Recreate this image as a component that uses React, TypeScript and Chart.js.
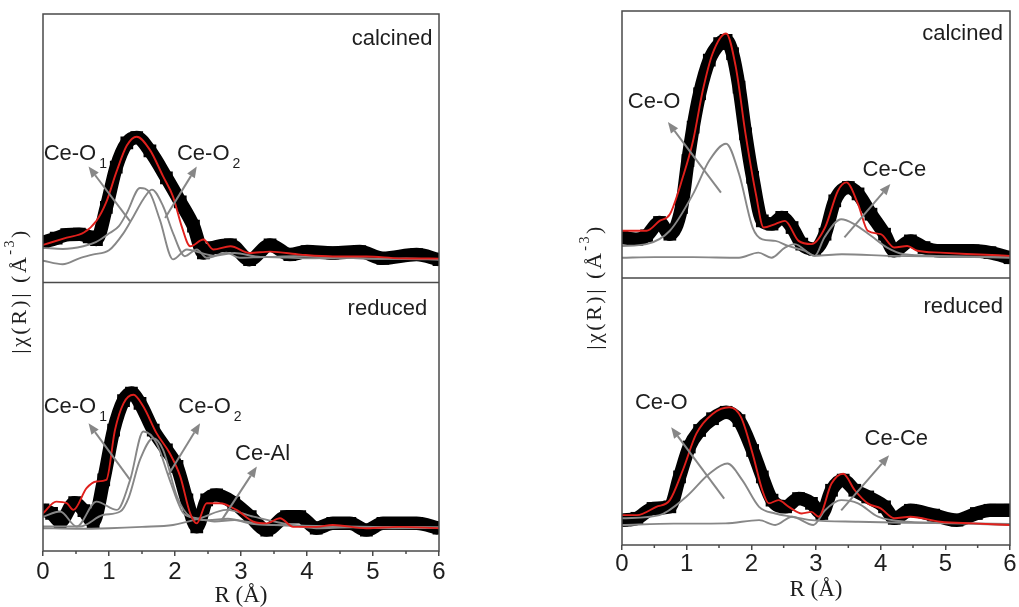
import React, { useEffect, useRef } from "react";
import { Chart, registerables } from "chart.js";

Chart.register(...registerables);

// ---------------- axis ticks ----------------
const xMinorTicks = [0.5, 1.5, 2.5, 3.5, 4.5, 5.5];
const xAxisTitle = "R (Å)";

// ---------------- LEFT panel, calcined ----------------
const lcDataR = [0, 0.2, 0.36, 0.55, 0.7, 0.81, 0.96, 1.11, 1.27, 1.42, 1.62, 1.87, 2.08, 2.28, 2.43, 2.58, 2.84, 3.13, 3.44, 3.74, 4.0, 4.39, 4.8, 5.15, 5.66, 6.0];
const lcDataY = [15, 16.5, 17.8, 18, 17, 16, 28, 43, 52, 54, 49, 39, 30, 21, 11, 13, 14, 8.5, 14, 10.4, 11.5, 11, 11.5, 9, 10.4, 8.5];
const lcFitR = [0, 0.36, 0.62, 0.81, 0.96, 1.11, 1.27, 1.42, 1.62, 1.82, 1.97, 2.1, 2.23, 2.43, 2.58, 2.84, 3.13, 3.44, 3.9, 4.39, 4.9, 5.4, 6.0];
const lcFitY = [14, 16.7, 18.6, 23, 30, 41, 51, 54.3, 49.4, 39.5, 32, 21, 13.5, 16, 12.3, 13.5, 11, 11.5, 10.4, 9.7, 9.7, 9, 8.9];
const lcCeO1R = [0, 0.3, 0.61, 0.8, 1.01, 1.15, 1.27, 1.47, 1.62, 1.77, 1.97, 2.18, 2.38, 2.6, 2.9, 3.3, 3.8, 4.4, 5.0, 5.5, 6.0];
const lcCeO1Y = [12.9, 12.5, 13.5, 15, 18.4, 21, 25.9, 35.2, 33.3, 23.4, 8.6, 12.3, 11.1, 10, 11, 9.5, 9.8, 9.5, 8.8, 9, 8.5];
const lcCeO2R = [0, 0.3, 0.55, 0.75, 1.0, 1.22, 1.37, 1.52, 1.65, 1.82, 1.97, 2.15, 2.33, 2.48, 2.78, 2.98, 3.4, 4.0, 4.6, 5.2, 6.0];
const lcCeO2Y = [8.1, 6.8, 9, 10.4, 12, 18.4, 24.6, 31, 34.6, 28.4, 18.4, 9.8, 12.3, 9.2, 11.1, 9.2, 9.5, 9, 9.2, 8.8, 8.6];

// ---------------- LEFT panel, reduced ----------------
const lrDataR = [0, 0.13, 0.26, 0.48, 0.62, 0.76, 0.92, 1.07, 1.22, 1.34, 1.47, 1.67, 1.87, 2.03, 2.18, 2.33, 2.48, 2.63, 2.89, 3.14, 3.39, 3.69, 3.89, 4.14, 4.39, 4.65, 4.9, 5.15, 5.66, 6.0];
const lrDataY = [15.3, 14, 10.9, 18, 15, 10.9, 26.5, 45, 56, 58.8, 55, 45, 37.7, 31.5, 19, 9, 19, 20.9, 17.9, 12.8, 7.8, 12.8, 12.8, 8.5, 10.3, 10.3, 7.8, 10.3, 10.3, 8.5];
const lrFitR = [0, 0.2, 0.36, 0.46, 0.66, 0.81, 0.96, 1.09, 1.22, 1.37, 1.52, 1.72, 1.92, 2.08, 2.23, 2.33, 2.48, 2.68, 2.93, 3.19, 3.39, 3.59, 3.79, 4.14, 4.39, 4.9, 5.4, 6.0];
const lrFitY = [14, 18.4, 17.8, 15.3, 23.4, 25.9, 26.5, 45, 55, 58.2, 53.8, 43.9, 36.4, 27.7, 14, 10.3, 17.8, 17.8, 15.3, 10.9, 10.3, 12.2, 9, 9, 9.7, 8.5, 9, 8.5];
const lrCeO1R = [0, 0.26, 0.51, 0.81, 1.12, 1.32, 1.52, 1.72, 1.92, 2.13, 2.33, 2.6, 2.9, 3.3, 3.8, 4.4, 5.0, 6.0];
const lrCeO1Y = [12.8, 14.7, 9.1, 18.4, 15.3, 26.5, 44.5, 40.2, 26.5, 14, 12.2, 11, 11.5, 10, 9.5, 9.2, 9, 8.8];
const lrCeO2R = [0, 0.56, 0.91, 1.17, 1.3, 1.47, 1.67, 1.82, 2.03, 2.23, 2.5, 2.8, 3.2, 3.8, 4.5, 5.2, 6.0];
const lrCeO2Y = [9.1, 9.1, 13.4, 14.7, 20, 34, 42, 37.7, 20.3, 12.8, 11.5, 12, 10, 9.5, 9, 9, 8.8];
const lrCeAlR = [0, 0.5, 1.0, 1.5, 1.97, 2.38, 2.78, 3.19, 3.64, 4.14, 4.7, 5.3, 6.0];
const lrCeAlY = [8.5, 8.3, 8.5, 9, 9.7, 12.2, 15.3, 12.8, 10.3, 8.5, 8.8, 8.5, 8.6];

// ---------------- RIGHT panel, calcined ----------------
const rcDataR = [0, 0.23, 0.38, 0.58, 0.74, 0.92, 1.02, 1.1, 1.2, 1.35, 1.51, 1.61, 1.71, 1.81, 1.91, 2.02, 2.17, 2.32, 2.47, 2.63, 2.78, 2.98, 3.14, 3.29, 3.5, 3.65, 3.85, 4.06, 4.21, 4.46, 4.67, 4.92, 5.43, 5.69, 6.0];
const rcDataY = [15.2, 14.5, 15.8, 20.8, 16.4, 26.4, 44, 56.5, 69, 81.6, 87.8, 89, 84, 71.5, 54, 37.7, 21.4, 20.2, 22.7, 18.9, 12.7, 10.8, 16.4, 28.9, 33.9, 31.5, 23.9, 16.4, 10.2, 13.9, 11.4, 10.2, 10.2, 9.5, 7.6];
const rcFitR = [0, 0.38, 0.58, 0.74, 0.94, 1.1, 1.25, 1.4, 1.61, 1.76, 1.91, 2.07, 2.19, 2.37, 2.52, 2.73, 2.93, 3.14, 3.34, 3.47, 3.65, 3.8, 4.0, 4.21, 4.41, 4.57, 4.92, 5.43, 6.0];
const rcFitY = [17.7, 17.7, 21.4, 23.9, 37.7, 51.5, 70.3, 84, 91.6, 79, 54, 31.5, 18.9, 20.2, 21.4, 13.9, 12.7, 18.9, 32.7, 35.8, 27.7, 17.7, 16.4, 11.4, 12, 10.2, 9.5, 8.9, 8.3];
const rcCeOR = [0, 0.38, 0.74, 1.1, 1.35, 1.61, 1.81, 2.02, 2.17, 2.37, 2.57, 2.83, 2.98, 3.4, 4.16, 5.0, 6.0];
const rcCeOY = [12, 12.7, 17.7, 31.5, 44, 50.3, 39, 18.9, 14.5, 13.9, 12, 10.2, 8.3, 8.9, 8.3, 8, 7.6];
const rcCeCeR = [0, 0.5, 1.1, 1.81, 2.11, 2.31, 2.52, 2.67, 2.98, 3.13, 3.39, 3.59, 3.85, 4.1, 4.36, 4.87, 5.5, 6.0];
const rcCeCeY = [7.6, 7.8, 7.8, 7.6, 9.5, 7.6, 11.4, 12.7, 8.3, 15.2, 22, 20.2, 15.8, 11.4, 8.9, 8.3, 8, 7.8];

// ---------------- RIGHT panel, reduced ----------------
const rrDataR = [0, 0.23, 0.48, 0.74, 0.89, 1.04, 1.2, 1.4, 1.61, 1.81, 2.02, 2.17, 2.32, 2.53, 2.73, 2.93, 3.09, 3.24, 3.42, 3.6, 3.8, 4.06, 4.21, 4.46, 4.82, 5.18, 5.48, 5.69, 6.0];
const rrDataY = [9.3, 10, 13.7, 14.3, 25.5, 36.7, 42.9, 47.3, 49.7, 46.6, 35.4, 25.5, 16.8, 14.3, 17.4, 15.6, 11.8, 20.5, 24.3, 20.5, 18, 14.3, 10, 13, 11.2, 9.3, 11.8, 13, 13];
const rrFitR = [0, 0.23, 0.53, 0.74, 0.94, 1.15, 1.4, 1.66, 1.84, 2.02, 2.17, 2.27, 2.42, 2.58, 2.78, 2.93, 3.04, 3.24, 3.42, 3.6, 3.8, 4.0, 4.21, 4.46, 4.92, 5.43, 6.0];
const rrFitY = [11.2, 11.2, 14.3, 16.8, 28, 41.7, 49.1, 51.6, 47.9, 34.2, 20.5, 15.6, 16.8, 14.3, 11.8, 12.4, 10.6, 23, 26.7, 20.5, 15.6, 13.7, 10, 10.6, 8.7, 8.1, 7.5];
const rrCeOR = [0, 0.58, 0.99, 1.35, 1.63, 1.86, 2.12, 2.37, 2.63, 2.93, 3.65, 4.5, 5.3, 6.0];
const rrCeOY = [10, 11.2, 18, 26.7, 30.5, 24.3, 14.3, 11.8, 10.6, 9.3, 8.7, 8.3, 8, 7.5];
const rrCeCeR = [0, 0.8, 1.6, 2.12, 2.37, 2.63, 2.96, 3.14, 3.39, 3.65, 3.96, 4.41, 5.2, 6.0];
const rrCeCeY = [7.5, 8, 8.1, 9.3, 7.5, 10.6, 7.5, 13, 16.8, 15.6, 10.6, 8.7, 8.2, 7.9];

// ---------------- styles ----------------
const RED = "#e0201c";
const GRAY = "#878787";
const FRAME = "#4a4a4a";
const TEXT = "#1e1e1e";
const SANS = '"Liberation Sans", Arial, sans-serif';
const SERIF = '"Liberation Serif", "Times New Roman", serif';

type Role = "data" | "fit" | "comp";

function series(xs: number[], ys: number[], axis: string, role: Role) {
  const color = role === "data" ? "#000000" : role === "fit" ? RED : GRAY;
  return {
    data: xs.map((x, i) => ({ x, y: ys[i] })),
    yAxisID: axis,
    borderColor: color,
    backgroundColor: color,
    borderWidth: role === "data" ? 13.5 : 1.9,
    pointRadius: role === "data" ? 9 : 0,
    pointStyle: "rect",
    pointBorderWidth: 0,
    cubicInterpolationMode: "monotone",
    order: role === "data" ? 3 : role === "comp" ? 2 : 1,
    clip: 0,
  };
}

interface TextNote { r: number; v: number; axis: string; text: string; sub?: string; align?: "left" | "right"; }
interface ArrowNote { axis: string; r0: number; v0: number; r1: number; v1: number; }

const decorPlugin = {
  id: "decor",
  afterDatasetsDraw(chart: any, _args: any, opts: any) {
    const ctx: CanvasRenderingContext2D = chart.ctx;
    const { left, right, top, bottom } = chart.chartArea;
    const xs = chart.scales.x;
    ctx.save();
    // frame + divider
    ctx.strokeStyle = FRAME;
    ctx.lineWidth = 1.5;
    ctx.strokeRect(left, top, right - left, bottom - top);
    ctx.beginPath();
    const div = chart.scales.yCal.bottom;
    ctx.moveTo(left, div);
    ctx.lineTo(right, div);
    // minor ticks
    for (const m of xMinorTicks) {
      const px = xs.getPixelForValue(m);
      ctx.moveTo(px, bottom);
      ctx.lineTo(px, bottom + 3);
    }
    ctx.stroke();

    // arrows
    ctx.strokeStyle = GRAY;
    ctx.fillStyle = GRAY;
    ctx.lineWidth = 2;
    for (const a of opts.arrows as ArrowNote[]) {
      const ys = chart.scales[a.axis];
      const x0 = xs.getPixelForValue(a.r0), y0 = ys.getPixelForValue(a.v0);
      const x1 = xs.getPixelForValue(a.r1), y1 = ys.getPixelForValue(a.v1);
      const ang = Math.atan2(y1 - y0, x1 - x0);
      const hl = 11, hw = 4.5;
      const bx = x1 - hl * Math.cos(ang), by = y1 - hl * Math.sin(ang);
      ctx.beginPath();
      ctx.moveTo(x0, y0);
      ctx.lineTo(bx, by);
      ctx.stroke();
      ctx.beginPath();
      ctx.moveTo(x1, y1);
      ctx.lineTo(bx + hw * Math.sin(ang), by - hw * Math.cos(ang));
      ctx.lineTo(bx - hw * Math.sin(ang), by + hw * Math.cos(ang));
      ctx.closePath();
      ctx.fill();
    }

    // text notes
    ctx.fillStyle = TEXT;
    ctx.textBaseline = "alphabetic";
    for (const t of opts.texts as TextNote[]) {
      const ys = chart.scales[t.axis];
      const px = xs.getPixelForValue(t.r), py = ys.getPixelForValue(t.v);
      ctx.font = `22px ${SANS}`;
      ctx.textAlign = t.align === "right" ? "right" : "left";
      ctx.fillText(t.text, px, py);
      if (t.sub) {
        const w = ctx.measureText(t.text).width;
        ctx.font = `14px ${SANS}`;
        ctx.textAlign = "left";
        ctx.fillText(t.sub, px + w + 3, py + 8);
      }
    }

    // y title (rotated)
    ctx.translate(opts.yTitle.x, opts.yTitle.y);
    ctx.rotate(-Math.PI / 2);
    const big = `22px ${SERIF}`, small = `14px ${SERIF}`;
    (ctx as any).letterSpacing = "2.5px";
    const parts = [
      { t: "|χ(R)| (Å", f: big, dy: 0 },
      { t: "-3", f: small, dy: -10 },
      { t: ")", f: big, dy: 0 },
    ];
    let total = 0;
    for (const p of parts) { ctx.font = p.f; total += ctx.measureText(p.t).width; }
    let cx = -total / 2;
    ctx.textAlign = "left";
    ctx.textBaseline = "middle";
    for (const p of parts) {
      ctx.font = p.f;
      ctx.fillText(p.t, cx, p.dy);
      cx += ctx.measureText(p.t).width;
    }
    ctx.restore();
  },
};

interface PanelSpec {
  left: number;
  width: number;
  padding: { left: number; right: number; top: number; bottom: number };
  xAxisHeight: number;
  tickPad: number;
  titlePadBottom: number;
  datasets: any[];
  texts: TextNote[];
  arrows: ArrowNote[];
  yTitle: { x: number; y: number };
}

const HEIGHT = 607;

const leftSpec: PanelSpec = {
  left: 0,
  width: 460,
  padding: { left: 43, right: 21, top: 14, bottom: 0 },
  xAxisHeight: 56,
  tickPad: 2,
  titlePadBottom: -3,
  datasets: [
    series(lcFitR, lcFitY, "yCal", "fit"),
    series(lcCeO1R, lcCeO1Y, "yCal", "comp"),
    series(lcCeO2R, lcCeO2Y, "yCal", "comp"),
    series(lcDataR, lcDataY, "yCal", "data"),
    series(lrFitR, lrFitY, "yRed", "fit"),
    series(lrCeO1R, lrCeO1Y, "yRed", "comp"),
    series(lrCeO2R, lrCeO2Y, "yRed", "comp"),
    series(lrCeAlR, lrCeAlY, "yRed", "comp"),
    series(lrDataR, lrDataY, "yRed", "data"),
  ],
  texts: [
    { axis: "yCal", r: 5.9, v: 88.5, text: "calcined", align: "right" },
    { axis: "yCal", r: 0.01, v: 45.7, text: "Ce-O", sub: "1" },
    { axis: "yCal", r: 2.03, v: 45.7, text: "Ce-O", sub: "2" },
    { axis: "yRed", r: 5.82, v: 88, text: "reduced", align: "right" },
    { axis: "yRed", r: 0.01, v: 51.5, text: "Ce-O", sub: "1" },
    { axis: "yRed", r: 2.05, v: 51.5, text: "Ce-O", sub: "2" },
    { axis: "yRed", r: 2.91, v: 34, text: "Ce-Al" },
  ],
  arrows: [
    { axis: "yCal", r0: 1.32, v0: 22.8, r1: 0.69, v1: 43.2 },
    { axis: "yCal", r0: 1.85, v0: 24, r1: 2.33, v1: 43.2 },
    { axis: "yRed", r0: 1.32, v0: 26.5, r1: 0.69, v1: 47.6 },
    { axis: "yRed", r0: 1.9, v0: 28.4, r1: 2.38, v1: 47.6 },
    { axis: "yRed", r0: 2.71, v0: 11.6, r1: 3.24, v1: 31.5 },
  ],
  yTitle: { x: 20, y: 291 },
};

const rightSpec: PanelSpec = {
  left: 560,
  width: 459,
  padding: { left: 62, right: 5, top: 11, bottom: 0 },
  xAxisHeight: 62,
  tickPad: 0,
  titlePadBottom: 3,
  datasets: [
    series(rcFitR, rcFitY, "yCal", "fit"),
    series(rcCeOR, rcCeOY, "yCal", "comp"),
    series(rcCeCeR, rcCeCeY, "yCal", "comp"),
    series(rcDataR, rcDataY, "yCal", "data"),
    series(rrFitR, rrFitY, "yRed", "fit"),
    series(rrCeOR, rrCeOY, "yRed", "comp"),
    series(rrCeCeR, rrCeCeY, "yRed", "comp"),
    series(rrDataR, rrDataY, "yRed", "data"),
  ],
  texts: [
    { axis: "yCal", r: 5.89, v: 89.1, text: "calcined", align: "right" },
    { axis: "yCal", r: 0.09, v: 63.5, text: "Ce-O" },
    { axis: "yCal", r: 3.72, v: 38.3, text: "Ce-Ce" },
    { axis: "yRed", r: 5.89, v: 86.9, text: "reduced", align: "right" },
    { axis: "yRed", r: 0.2, v: 51.1, text: "Ce-O" },
    { axis: "yRed", r: 3.75, v: 37.3, text: "Ce-Ce" },
  ],
  arrows: [
    { axis: "yCal", r0: 1.53, v0: 32, r1: 0.71, v1: 58.4 },
    { axis: "yCal", r0: 3.44, v0: 15.2, r1: 4.15, v1: 35.2 },
    { axis: "yRed", r0: 1.58, v0: 17.4, r1: 0.76, v1: 44.1 },
    { axis: "yRed", r0: 3.39, v0: 13, r1: 4.13, v1: 33.6 },
  ],
  yTitle: { x: 35, y: 287 },
};

function buildConfig(spec: PanelSpec): any {
  return {
    type: "line",
    data: { datasets: spec.datasets },
    plugins: [decorPlugin],
    options: {
      animation: false,
      responsive: false,
      maintainAspectRatio: false,
      events: [],
      layout: { padding: spec.padding },
      plugins: {
        legend: { display: false },
        tooltip: { enabled: false },
        decor: { texts: spec.texts, arrows: spec.arrows, yTitle: spec.yTitle },
      },
      scales: {
        x: {
          type: "linear",
          position: "bottom",
          min: 0,
          max: 6,
          ticks: {
            stepSize: 1,
            autoSkip: false,
            maxRotation: 0,
            padding: spec.tickPad,
            color: TEXT,
            font: { family: SANS, size: 24 },
          },
          grid: { display: true, drawOnChartArea: false, drawTicks: true, tickLength: 5, color: FRAME, lineWidth: 1.5 },
          border: { display: false },
          title: {
            display: true,
            text: xAxisTitle,
            color: TEXT,
            font: { family: SERIF, size: 23 },
            padding: { top: 0, bottom: spec.titlePadBottom },
          },
          afterFit: (s: any) => {
            s.height = spec.xAxisHeight;
          },
        },
        yRed: { type: "linear", position: "left", stack: "panel", stackWeight: 1, min: 0, max: 100, display: false },
        yCal: { type: "linear", position: "left", stack: "panel", stackWeight: 1, min: 0, max: 100, display: false },
      },
    },
  };
}

function Panel({ spec }: { spec: PanelSpec }) {
  const ref = useRef<HTMLCanvasElement>(null);
  useEffect(() => {
    const chart = new Chart(ref.current as HTMLCanvasElement, buildConfig(spec));
    return () => chart.destroy();
  }, [spec]);
  return (
    <canvas
      ref={ref}
      width={spec.width}
      height={HEIGHT}
      style={{ position: "absolute", left: spec.left, top: 0, width: spec.width, height: HEIGHT }}
    />
  );
}

export default function App() {
  return (
    <div style={{ position: "absolute", left: 0, top: 0, width: 1019, height: HEIGHT, background: "#ffffff", overflow: "hidden" }}>
      <Panel spec={leftSpec} />
      <Panel spec={rightSpec} />
    </div>
  );
}
